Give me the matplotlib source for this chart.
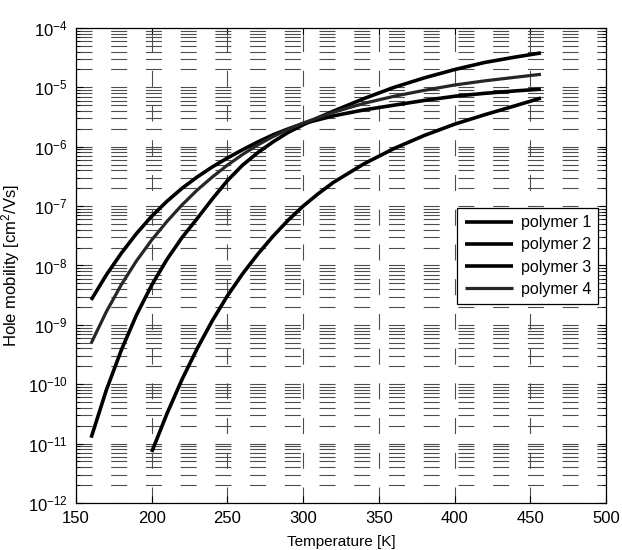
import matplotlib
matplotlib.use("Agg")
import matplotlib.pyplot as plt
import numpy as np
from matplotlib.ticker import LogLocator, FixedLocator, NullFormatter

plt.rcParams['font.family'] = ['Liberation Sans', 'DejaVu Sans']
plt.rcParams['mathtext.fontset'] = 'custom'
plt.rcParams['mathtext.rm'] = 'Liberation Sans'
plt.rcParams['mathtext.it'] = 'Liberation Sans:italic'
plt.rcParams['mathtext.bf'] = 'Liberation Sans:bold'
plt.rcParams['lines.scale_dashes'] = False

# ---- data (log10 of hole mobility in cm^2/Vs) ----
T_p1 = [160, 170, 180, 190, 200, 210, 220, 230, 240, 250, 260, 270, 280, 290,
        300, 310, 320, 340, 360, 380, 400, 420, 440, 457]
logmu_p1 = [-10.90, -10.10, -9.42, -8.83, -8.33, -7.90, -7.53, -7.21, -6.88, -6.57,
            -6.31, -6.10, -5.92, -5.76, -5.63, -5.51, -5.40, -5.19, -5.00, -4.84,
            -4.70, -4.58, -4.49, -4.42]

T_p2 = [160, 170, 180, 190, 200, 210, 220, 230, 240, 250, 260, 270, 280, 290,
        300, 320, 340, 360, 380, 400, 420, 440, 457]
logmu_p2 = [-8.58, -8.16, -7.79, -7.46, -7.17, -6.92, -6.70, -6.51, -6.34, -6.19,
            -6.05, -5.92, -5.80, -5.70, -5.61, -5.48, -5.38, -5.30, -5.22, -5.15,
            -5.10, -5.06, -5.03]

T_p3 = [200, 210, 220, 230, 240, 250, 260, 270, 280, 290, 300, 310, 320, 340,
        360, 380, 400, 420, 440, 457]
logmu_p3 = [-11.14, -10.50, -9.92, -9.40, -8.93, -8.51, -8.14, -7.81, -7.51, -7.24,
            -7.00, -6.79, -6.60, -6.29, -6.03, -5.81, -5.62, -5.46, -5.31, -5.18]

T_p4 = [160, 170, 180, 190, 200, 210, 220, 230, 240, 250, 260, 270, 280, 290,
        300, 320, 340, 360, 380, 400, 420, 440, 457]
logmu_p4 = [-9.31, -8.78, -8.32, -7.92, -7.57, -7.26, -6.98, -6.73, -6.51, -6.31,
            -6.13, -5.97, -5.83, -5.71, -5.60, -5.42, -5.27, -5.15, -5.05, -4.96,
            -4.89, -4.83, -4.78]

series_names = ['polymer 1', 'polymer 2', 'polymer 3', 'polymer 4']
series_T = [T_p1, T_p2, T_p3, T_p4]
series_logmu = [logmu_p1, logmu_p2, logmu_p3, logmu_p4]

x_ticks = [150, 200, 250, 300, 350, 400, 450, 500]
y_decades = list(range(-12, -3))

# ---- figure ----
fig = plt.figure(figsize=(6.22, 5.5), dpi=100)
ax = fig.add_axes([0.1222, 0.0855, 0.8521, 0.8636])

colors = ['black', 'black', 'black', '0.15']
widths = [2.6, 2.6, 2.6, 2.3]
for name, T, lm, c, w in zip(series_names, series_T, series_logmu, colors, widths):
    ax.plot(T, 10.0 ** np.array(lm), color=c, lw=w, label=name,
            solid_capstyle='butt', solid_joinstyle='round')

ax.set_yscale('log')
ax.set_xlim(150, 500)
ax.set_ylim(1e-12, 1e-4)
ax.xaxis.set_major_locator(FixedLocator(x_ticks))
ax.yaxis.set_major_locator(FixedLocator([10.0 ** d for d in y_decades]))
ax.yaxis.set_minor_locator(LogLocator(base=10, subs=np.arange(2, 10), numticks=50))
ax.yaxis.set_minor_formatter(NullFormatter())

dash = (0, (11.5, 13.5))
ax.grid(True, which='major', axis='both', color='0.3', lw=0.8, linestyle=dash)
ax.grid(True, which='minor', axis='y', color='0.3', lw=0.8, linestyle=dash)
ax.set_axisbelow(True)

ax.tick_params(which='both', direction='in', top=True, right=True, labelsize=12,
               color='black')
ax.tick_params(which='major', length=5, width=0.8)
ax.tick_params(which='minor', length=3, width=0.6)
ax.tick_params(axis='x', pad=6)
ax.tick_params(axis='y', pad=6)
for s in ax.spines.values():
    s.set_linewidth(0.9)
    s.set_color('black')

ax.set_xlabel('Temperature [K]', fontsize=11, labelpad=6)
ax.set_ylabel('Hole mobility [cm$^2$/Vs]', fontsize=12, labelpad=4)

leg = ax.legend(loc='upper right', bbox_to_anchor=(0.985, 0.621), fontsize=11.5,
                frameon=True, fancybox=False, edgecolor='black', framealpha=1,
                handlelength=3.0, labelspacing=0.45, borderpad=0.45,
                handletextpad=0.5, borderaxespad=0)
leg.get_frame().set_linewidth(0.9)

fig.savefig('out.png', dpi=100)
